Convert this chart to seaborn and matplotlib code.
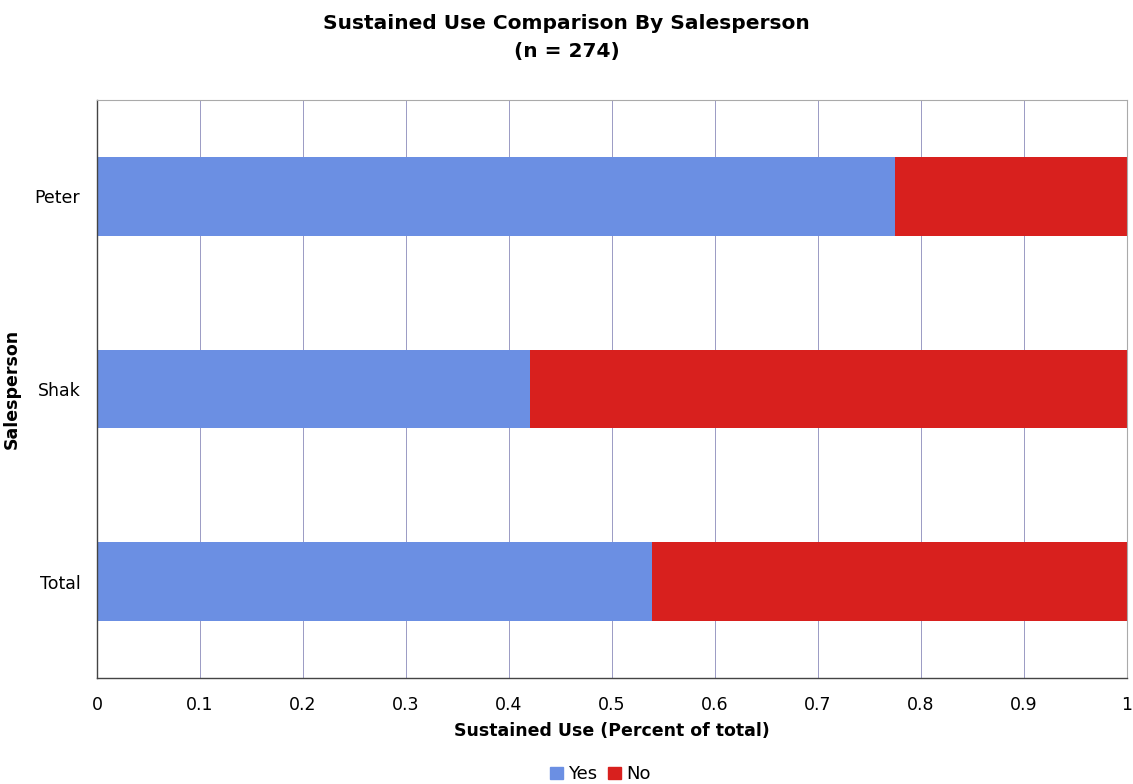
import pandas as pd
import seaborn as sns
import matplotlib.pyplot as plt
from matplotlib.patches import Patch

people = ["Peter", "Shak", "Total"]
yes_share = [0.775, 0.42, 0.539]
total_share = [1.0, 1.0, 1.0]
xticks = [0, 0.1, 0.2, 0.3, 0.4, 0.5, 0.6, 0.7, 0.8, 0.9, 1]
xtick_labels = ["0", "0.1", "0.2", "0.3", "0.4", "0.5", "0.6", "0.7", "0.8", "0.9", "1"]

df = pd.DataFrame({"Salesperson": people, "Yes": yes_share, "All": total_share})

sns.set_style("white")
plt.rcParams['font.family'] = ['DejaVu Sans']
plt.rcParams['text.color'] = 'black'
plt.rcParams['xtick.color'] = 'black'
plt.rcParams['ytick.color'] = 'black'
plt.rcParams['axes.labelcolor'] = 'black'

fig = plt.figure(figsize=(11.33, 7.84), dpi=100)
ax = fig.add_axes([97 / 1133, 1 - 678 / 784, 1030 / 1133, 578 / 784])

# red "No" fills the whole bar, blue "Yes" painted over it
sns.barplot(data=df, x="All", y="Salesperson", orient="h", color="#d8201e",
            saturation=1, width=0.41, linewidth=0, ax=ax)
sns.barplot(data=df, x="Yes", y="Salesperson", orient="h", color="#6b8fe3",
            saturation=1, width=0.41, linewidth=0, ax=ax)

ax.set_xlim(0, 1)
ax.set_ylim(2.5, -0.5)
ax.set_xticks(xticks)
ax.set_xticklabels(xtick_labels, fontsize=12.5)
ax.tick_params(axis="y", labelsize=12.5, length=0, pad=12)
ax.tick_params(axis="x", length=0, pad=13)
ax.set_yticks([0.5, 1.5], minor=True)
ax.tick_params(axis="y", which="minor", length=4, color="#888888")
ax.grid(axis="x", color="#9a9ac4", linewidth=0.7)
ax.set_axisbelow(True)
for side in ["top", "right"]:
    ax.spines[side].set_color("#aaaaaa")
    ax.spines[side].set_linewidth(0.8)
for side in ["left", "bottom"]:
    ax.spines[side].set_color("#444444")
    ax.spines[side].set_linewidth(1.0)

ax.set_xlabel("Sustained Use (Percent of total)", fontsize=12.5, fontweight="bold", labelpad=6)
ax.set_ylabel("Salesperson", fontsize=12.5, fontweight="bold", labelpad=10)
fig.suptitle("Sustained Use Comparison By Salesperson\n(n = 274)", fontsize=14.5,
             fontweight="bold", y=0.982, linespacing=1.6)

handles = [Patch(color="#6b8fe3", label="Yes"), Patch(color="#d8201e", label="No")]
fig.legend(handles=handles, loc="lower center", bbox_to_anchor=(0.53, -0.02), ncol=2,
           frameon=False, fontsize=13, handlelength=0.7, handleheight=0.7,
           handletextpad=0.3, columnspacing=0.6)

fig.savefig("out.png", dpi=100)
